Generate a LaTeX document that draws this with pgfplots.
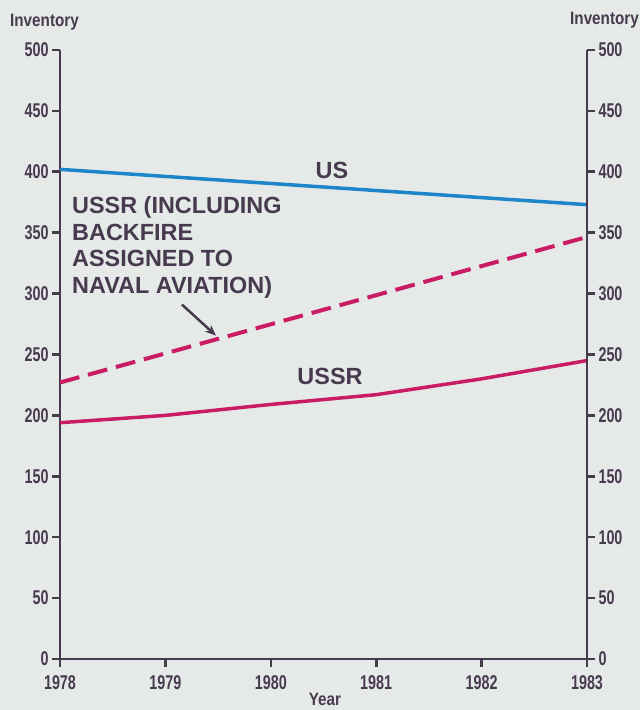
\documentclass[border=0pt]{standalone}
\usepackage{pgfplots}
\pgfplotsset{compat=1.18}
\usetikzlibrary{arrows.meta}
\usepackage{fontspec}
\setmainfont{Liberation Sans}
\newfontfamily\cond{Liberation Sans}[FakeStretch=0.72]
\newfontfamily\semicond{Liberation Sans}[FakeStretch=0.85]
\definecolor{bg}{RGB}{229,234,233}
\definecolor{ink}{RGB}{72,58,78}
\definecolor{usblue}{RGB}{28,134,200}
\definecolor{ussr}{RGB}{202,28,100}
\pgfplotsset{
  common/.style={
    scale only axis, width=527bp, height=609bp,
    xmin=1978, xmax=1983, ymin=0, ymax=500,
    ytick={0,50,...,500},
    tick align=outside,
    major tick length=8bp,
    axis line style={ink, line width=2.6bp},
    tick style={ink, line width=2.6bp},
    ticklabel style={font=\cond\bfseries\fontsize{20}{20}\selectfont, text=ink},
    /pgf/number format/assume math mode=true,
    /pgf/number format/1000 sep={},
    clip=false,
  }
}
\begin{document}
\begin{tikzpicture}[x=1bp,y=1bp]
\fill[bg] (-60,-51) rectangle (580,659);
\useasboundingbox (-60,-51) rectangle (580,659);
\begin{axis}[common,
  axis x line*=bottom, axis y line*=left,
  xtick={1978,1979,1980,1981,1982,1983},
  xticklabel style={yshift=-5bp},
]
\addplot[usblue, line width=3.5bp] coordinates {(1978,402) (1983,373)};
\addplot[ussr, line width=4bp, dash pattern=on 20bp off 9bp] coordinates {(1978,227) (1983,346.5)};
\addplot[ussr, line width=3.5bp] coordinates {(1978,194) (1979,200) (1980,209) (1981,217) (1982,230) (1983,245)};
\draw[ink, line width=2.5bp, -{Stealth[length=11bp,width=9bp]}] (axis cs:1979.157,291) -- (axis cs:1979.48,265.5);
\end{axis}
\begin{axis}[common,
  axis x line=none, axis y line*=right,
]
\end{axis}
\begin{scope}[every node/.style={text=ink, font=\bfseries\fontsize{23.5}{23.5}\selectfont, inner sep=0pt}]
\node[anchor=base west] at (12,445) {USSR (INCLUDING};
\node[anchor=base west] at (12,418.5) {BACKFIRE};
\node[anchor=base west] at (12,392) {ASSIGNED TO};
\node[anchor=base west] at (12,365.5) {NAVAL AVIATION)};
\node at (272,489) {US};
\node at (270,283) {USSR};
\end{scope}
\node[text=ink, font=\semicond\bfseries\fontsize{18}{18}\selectfont, anchor=west, inner sep=0pt] at (-50,637) {Inventory};
\node[text=ink, font=\semicond\bfseries\fontsize{18}{18}\selectfont, anchor=west, inner sep=0pt] at (510,639) {Inventory};
\node[text=ink, font=\semicond\bfseries\fontsize{18}{18}\selectfont, inner sep=0pt] at (265,-40) {Year};
\end{tikzpicture}
\end{document}
